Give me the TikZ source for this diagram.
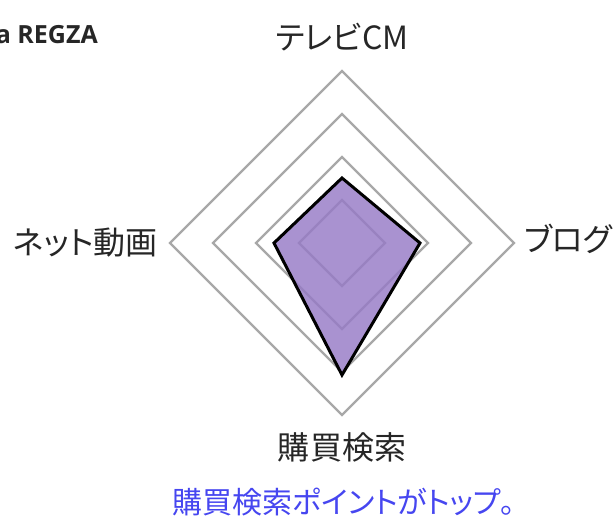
\documentclass[tikz,border=0pt]{standalone}
\usepackage{fontspec}
\setmainfont{Noto Sans CJK JP}[RawFeature={+palt}]
\newfontfamily\titlefont{Open Sans}
\usepackage{xcolor}
\definecolor{gridgray}{RGB}{168,168,168}
\definecolor{radarfill}{RGB}{150,122,198}
\definecolor{notebl}{RGB}{70,70,240}

\begin{document}
\begin{tikzpicture}[x=1bp, y=1bp,
    gridline/.style={line width=2.3bp, color=gridgray, line join=miter},
    axislabel/.style={inner sep=0pt, font=\fontsize{32bp}{38bp}\selectfont, text=black!85},
    ]
      \useasboundingbox (-342,-277) rectangle (274,243);
      % \draw[help lines] (-342,-277) grid[step=43] (274,243);

      \draw[gridline] (0,172) -- (172,0) -- (0,-172) -- (-172,0) -- cycle;
      \draw[gridline] (0,129) -- (129,0) -- (0,-129) -- (-129,0) -- cycle;
      \draw[gridline] (0,86) -- (86,0) -- (0,-86) -- (-86,0) -- cycle;
      \draw[gridline] (0,43) -- (43,0) -- (0,-43) -- (-43,0) -- cycle;

      \fill[color=radarfill, fill opacity=0.82] (0,65) -- (78,0) -- (0,-132) -- (-68,0) -- cycle;
      \draw[line width=3bp, color=black, line join=miter] (0,65) -- (78,0) -- (0,-132) -- (-68,0) -- cycle;

      \node[axislabel] (tv) at (0,206) {テレビCM};
      \node[axislabel, anchor=west] (blog) at (182,4) {ブログ};
      \node[axislabel, anchor=east] (douga) at (-184,0) {ネット動画};
      \node[axislabel] (kensaku) at (0,-204) {購買検索};

      \node[inner sep=0pt, anchor=east, font=\titlefont\bfseries\fontsize{25bp}{30bp}\selectfont, text=black!85] (title) at (-244,208) {a REGZA};
      \node[inner sep=0pt, font=\fontsize{30bp}{36bp}\selectfont, text=notebl] (note) at (2,-259) {購買検索ポイントがトップ。};

\end{tikzpicture}
\end{document}
